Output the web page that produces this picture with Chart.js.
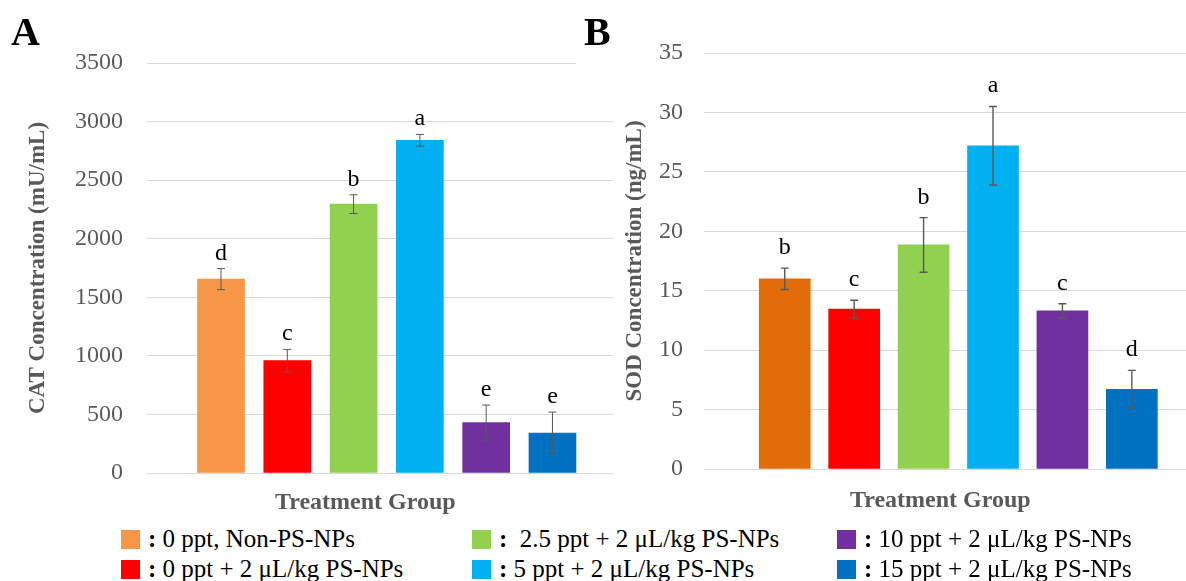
<!DOCTYPE html>
<html>
<head>
<meta charset="utf-8">
<script src="https://cdn.jsdelivr.net/npm/chart.js@4.4.1/dist/chart.umd.min.js"></script>
<style>
  body { margin: 0; background: #fff; }
  #wrap { position: relative; width: 1186px; height: 581px; overflow: hidden; background: #fff;
          font-family: "Liberation Serif", "Times New Roman", serif; }
  canvas { position: absolute; top: 0; }
  #chartA { left: 0; }
  #chartB { left: 613px; }
  .panel { position: absolute; font-weight: bold; font-size: 40px; color: #000; line-height: 1; }
  .xtitle { position: absolute; font-weight: bold; font-size: 24px; color: #595959; white-space: nowrap; }
  .leg { position: absolute; font-size: 25px; color: #000; white-space: pre; line-height: 1; }
  .leg i { display: inline-block; width: 19px; height: 19px; vertical-align: -2px; margin-right: 8px; }
  .leg b { font-weight: bold; }
  .mask { position: absolute; left: 576px; top: 56px; width: 37px; height: 12px; background: #fff; }
</style>
</head>
<body>
<div id="wrap">
  <canvas id="chartA" width="613" height="518"></canvas>
  <canvas id="chartB" width="573" height="514"></canvas>
  <div class="mask"></div>
  <div class="panel" style="left:11px; top:12px;">A</div>
  <div class="panel" style="left:584px; top:12px;">B</div>
  <div class="xtitle" style="left:275px; top:488px;">Treatment Group</div>
  <div class="xtitle" style="left:850px; top:486px;">Treatment Group</div>
  <div id="legend"></div>
</div>
<script>
// categories / treatment groups
const groups = [
  "0 ppt, Non-PS-NPs",
  "0 ppt + 2 μL/kg PS-NPs",
  " 2.5 ppt + 2 μL/kg PS-NPs",
  "5 ppt + 2 μL/kg PS-NPs",
  "10 ppt + 2 μL/kg PS-NPs",
  "15 ppt + 2 μL/kg PS-NPs"
];

// panel A: CAT (mU/mL)
const catValues = [1655, 960, 2295, 2840, 430, 340];
const catErrors = [90, 95, 80, 50, 150, 180];
const catLetters = ["d", "c", "b", "a", "e", "e"];
const catTicks = [0, 500, 1000, 1500, 2000, 2500, 3000, 3500];

// panel B: SOD (ng/mL)
const sodValues = [16.0, 13.45, 18.85, 27.2, 13.3, 6.7];
const sodErrors = [0.9, 0.75, 2.3, 3.3, 0.6, 1.6];
const sodLetters = ["b", "c", "b", "a", "c", "d"];
const sodTicks = [0, 5, 10, 15, 20, 25, 30, 35];

const colorsA = ["#F79646", "#FF0000", "#92D050", "#00B0F0", "#7030A0", "#0070C0"];
const colorsB = ["#E26B0A", "#FF0000", "#92D050", "#00B0F0", "#7030A0", "#0070C0"];

const serif = "'Liberation Serif', 'Times New Roman', serif";

// error bars + significance letters
const errorBarPlugin = {
  id: "errorBars",
  afterDatasetsDraw(chart, args, opts) {
    const ctx = chart.ctx;
    const y = chart.scales.y;
    const meta = chart.getDatasetMeta(0);
    const ds = chart.data.datasets[0];
    ctx.save();
    meta.data.forEach((bar, i) => {
      const v = ds.data[i].y;
      const e = opts.errors[i];
      const top = y.getPixelForValue(v + e);
      const bot = y.getPixelForValue(v - e);
      ctx.strokeStyle = opts.color;
      ctx.lineWidth = opts.width;
      ctx.beginPath();
      ctx.moveTo(bar.x, top); ctx.lineTo(bar.x, bot);
      ctx.moveTo(bar.x - 4, top); ctx.lineTo(bar.x + 4, top);
      ctx.moveTo(bar.x - 4, bot); ctx.lineTo(bar.x + 4, bot);
      ctx.stroke();
      ctx.fillStyle = "#000";
      ctx.font = "24px " + serif;
      ctx.textAlign = "center";
      ctx.textBaseline = "alphabetic";
      ctx.fillText(opts.letters[i], bar.x, top - opts.gap);
    });
    ctx.restore();
  }
};

function makeChart(id, values, colors, ticks, cfg) {
  return new Chart(document.getElementById(id), {
    type: "bar",
    data: {
      datasets: [{
        data: values.map((v, i) => ({ x: i, y: v })),
        backgroundColor: colors,
        borderWidth: 0,
        barThickness: cfg.barWidth
      }]
    },
    options: {
      responsive: false,
      animation: false,
      layout: { padding: { top: cfg.top, bottom: 45, left: 0, right: 0 } },
      plugins: {
        legend: { display: false },
        tooltip: { enabled: false },
        errorBars: { errors: cfg.errors, letters: cfg.letters, gap: cfg.gap, color: "#595959", width: cfg.lineWidth }
      },
      scales: {
        x: { type: "linear", display: false, min: cfg.xmin, max: cfg.xmax, offset: false },
        y: {
          min: ticks[0],
          max: ticks[ticks.length - 1],
          afterBuildTicks: (s) => { s.ticks = ticks.map(v => ({ value: v })); },
          afterFit: (s) => { s.width = cfg.axisWidth; },
          grid: { color: "#d9d9d9", drawTicks: false },
          border: { display: false },
          ticks: {
            color: "#595959",
            padding: cfg.tickPad,
            font: { family: serif, size: 24 },
            callback: (v) => String(v)
          },
          title: {
            display: true,
            text: cfg.title,
            color: "#595959",
            padding: { top: cfg.titlePad, bottom: 0 },
            font: { family: serif, size: 23, weight: "bold" }
          }
        }
      }
    },
    plugins: [errorBarPlugin]
  });
}

makeChart("chartA", catValues, colorsA, catTicks, {
  title: "CAT Concentration (mU/mL)",
  errors: catErrors, letters: catLetters, gap: 9, lineWidth: 1,
  top: 63, axisWidth: 147, tickPad: 24, titlePad: 24,
  xmin: -1.116, xmax: 5.913, barWidth: 47
});

makeChart("chartB", sodValues, colorsB, sodTicks, {
  title: "SOD Concentration (ng/mL)",
  errors: sodErrors, letters: sodLetters, gap: 14, lineWidth: 1.4,
  top: 53, axisWidth: 91, tickPad: 21, titlePad: 8,
  xmin: -1.163, xmax: 5.78, barWidth: 51
});

// legend: three columns, two rows
const legendPos = [
  [121, 528], [121, 558], [472, 528], [472, 558], [837, 528], [837, 558]
];
const legend = document.getElementById("legend");
groups.forEach((g, i) => {
  const d = document.createElement("div");
  d.className = "leg";
  d.style.left = legendPos[i][0] + "px";
  d.style.top = (legendPos[i][1] - 2) + "px";
  d.innerHTML = '<i style="background:' + colorsA[i] + '"></i><b>:</b> ' + g;
  legend.appendChild(d);
});
</script>
</body>
</html>
